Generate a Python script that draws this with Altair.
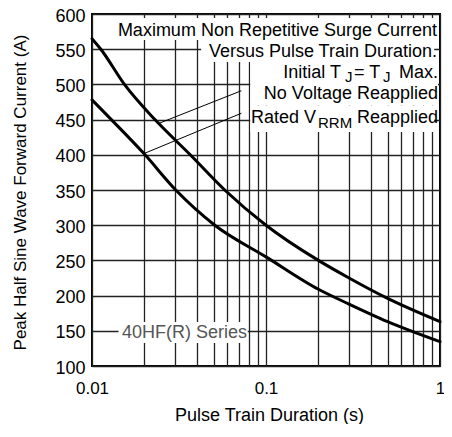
import altair as alt
import pandas as pd

FONT = "Liberation Sans"

# ---- curve data (pulse duration in s, peak current in A)
pulse_no_voltage = [0.01, 0.01124, 0.01536, 0.0230, 0.0367, 0.0579, 0.1, 0.2, 0.3, 0.5, 1.0]
current_no_voltage = [565, 550, 500, 450, 400, 350, 300, 250, 225, 196, 163]

pulse_rated_vrrm = [0.01, 0.01292, 0.02, 0.0303, 0.0508, 0.1, 0.2, 0.3, 0.5, 1.0]
current_rated_vrrm = [478, 450, 401, 350, 300, 255, 209, 188, 163, 134.5]

# ---- axis ticks
x_ticks = [0.01, 0.02, 0.03, 0.04, 0.05, 0.06, 0.07, 0.08, 0.09,
           0.1, 0.2, 0.3, 0.4, 0.5, 0.6, 0.7, 0.8, 0.9, 1.0]
y_ticks = [100.0, 150.0, 200.0, 250.0, 300.0, 350.0, 400.0, 450.0, 500.0, 550.0, 600.0]

# ---- leader lines (from curve to label)
leader_id = ["a", "a", "b", "b"]
leader_t = [0.02444, 0.0722, 0.02, 0.0722]
leader_v = [445, 491, 402, 459]

# ---- white boxes behind annotation text (data coordinates)
box_t1 = [0.01331, 0.04237, 0.0812, 0.0812, 0.01421]
box_t2 = [0.9737, 0.9263, 0.9737, 0.9263, 0.0785]
box_v1 = [594.3, 563.0, 531.8, 470.0, 162.5]
box_v2 = [563.0, 531.8, 470.0, 432.4, 132.7]

xscale = alt.Scale(type="log", domain=[0.01, 1], nice=False)
yscale = alt.Scale(domain=[100, 600], nice=False, zero=False)

curves = pd.DataFrame({
    "t": pulse_no_voltage + pulse_rated_vrrm,
    "v": current_no_voltage + current_rated_vrrm,
    "series": ["No Voltage Reapplied"] * len(pulse_no_voltage)
              + ["Rated VRRM Reapplied"] * len(pulse_rated_vrrm),
})
leaders = pd.DataFrame({"id": leader_id, "t": leader_t, "v": leader_v})
boxes = pd.DataFrame({"t": box_t1, "t2": box_t2, "v": box_v1, "v2": box_v2})

x_axis = alt.Axis(
    values=x_ticks,
    labelExpr="datum.value == 0.01 ? '0.01' : datum.value == 0.1 ? '0.1' : datum.value == 1 ? '1' : ''",
    grid=True, gridColor="#222222", gridWidth=1.3,
    ticks=False, domain=False,
    labelFont=FONT, labelFontSize=17, labelColor="black", labelPadding=27,
    labelBaseline="alphabetic", labelFlush=False, labelOverlap=False,
    title="Pulse Train Duration (s)", titleFont=FONT, titleFontSize=18,
    titleFontWeight="normal", titleColor="black",
    titleX=177, titleY=54, titleAlign="center", titleBaseline="alphabetic",
)
y_axis = alt.Axis(
    values=y_ticks, tickCount=11,
    labelExpr="format(datum.value, 'd')",
    grid=True, gridColor="#222222", gridWidth=1.3,
    ticks=False, domain=False,
    labelFont=FONT, labelFontSize=18, labelColor="black", labelPadding=7,
    labelBaseline="alphabetic", labelOffset=7,
    labelFlush=False, labelOverlap=False,
    title="Peak Half Sine Wave Forward Current (A)", titleFont=FONT, titleFontSize=17,
    titleFontWeight="normal", titleColor="black",
    titleX=-67, titleY=178, titleAngle=270, titleAlign="center", titleBaseline="alphabetic",
)

X = dict(type="quantitative", scale=xscale, axis=x_axis)
Y = dict(type="quantitative", scale=yscale, axis=y_axis)

base_curves = alt.Chart(curves).mark_line(
    color="black", strokeWidth=3, interpolate="monotone", strokeCap="round"
).encode(
    x=alt.X("t", **X),
    y=alt.Y("v", **Y),
    detail="series:N",
)

box_layer = alt.Chart(boxes).mark_rect(color="white", opacity=1).encode(
    x=alt.X("t", **X),
    x2="t2:Q",
    y=alt.Y("v", **Y),
    y2="v2:Q",
)

leader_layer = alt.Chart(leaders).mark_line(color="black", strokeWidth=1).encode(
    x=alt.X("t", **X),
    y=alt.Y("v", **Y),
    detail="id:N",
)


def txt(label, t, v, dx=0, size=18, align="left", color="black"):
    df = pd.DataFrame({"t": [t], "v": [v], "label": [label]})
    return alt.Chart(df).mark_text(
        align=align, baseline="alphabetic", dx=dx, fontSize=size, font=FONT, color=color
    ).encode(
        x=alt.X("t", **X),
        y=alt.Y("v", **Y),
        text="label:N",
    )


texts = [
    txt("Maximum Non Repetitive Surge Current", 1, 568.75, dx=-3, align="right"),
    txt("Versus Pulse Train Duration.", 1, 539.6, dx=-3, align="right"),
    txt("Initial T", 1, 508.7, dx=-99, align="right"),
    txt("J", 1, 503.4, dx=-95, size=15),
    txt("= T", 1, 508.7, dx=-86),
    txt("J", 1, 503.4, dx=-57, size=15),
    txt("Max.", 1, 508.7, dx=-2, align="right"),
    txt("No Voltage Reapplied", 1, 479.9, dx=-2, align="right"),
    txt("Rated V", 1, 445.6, dx=-189),
    txt("RRM", 1, 438.1, dx=-122, size=15),
    txt("Reapplied", 1, 445.6, dx=-2, align="right"),
    txt("40HF(R) Series", 0.01, 139.5, dx=30, color="#555555"),
]

chart = alt.layer(base_curves, box_layer, leader_layer, *texts).properties(
    width=348,
    height=352,
    padding={"left": 84, "top": 6, "right": 4, "bottom": 58},
    autosize=alt.AutoSizeParams(type="none"),
).configure_view(stroke="black", strokeWidth=2)

chart.save("out.html", embed_options={"renderer": "svg", "actions": False})
